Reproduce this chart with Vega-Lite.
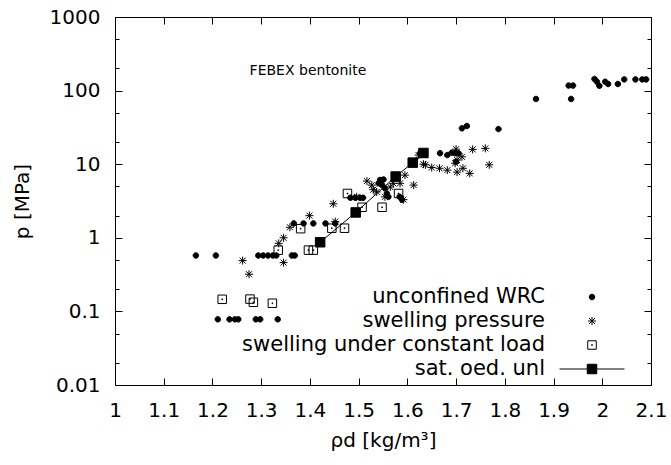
{
  "$schema": "https://vega.github.io/schema/vega-lite/v6.json",
  "width": 536,
  "height": 368,
  "padding": {"left": 12, "top": 7, "right": 0, "bottom": 5},
  "data": {"values": [
    {"rho": 1.166, "p": 0.575, "s": "unconfined WRC"},
    {"rho": 1.207, "p": 0.575, "s": "unconfined WRC"},
    {"rho": 1.294, "p": 0.575, "s": "unconfined WRC"},
    {"rho": 1.304, "p": 0.575, "s": "unconfined WRC"},
    {"rho": 1.314, "p": 0.575, "s": "unconfined WRC"},
    {"rho": 1.324, "p": 0.575, "s": "unconfined WRC"},
    {"rho": 1.331, "p": 0.575, "s": "unconfined WRC"},
    {"rho": 1.363, "p": 0.575, "s": "unconfined WRC"},
    {"rho": 1.369, "p": 0.575, "s": "unconfined WRC"},
    {"rho": 1.211, "p": 0.078, "s": "unconfined WRC"},
    {"rho": 1.235, "p": 0.078, "s": "unconfined WRC"},
    {"rho": 1.246, "p": 0.078, "s": "unconfined WRC"},
    {"rho": 1.253, "p": 0.078, "s": "unconfined WRC"},
    {"rho": 1.289, "p": 0.078, "s": "unconfined WRC"},
    {"rho": 1.298, "p": 0.078, "s": "unconfined WRC"},
    {"rho": 1.334, "p": 0.078, "s": "unconfined WRC"},
    {"rho": 1.367, "p": 1.57, "s": "unconfined WRC"},
    {"rho": 1.387, "p": 1.57, "s": "unconfined WRC"},
    {"rho": 1.407, "p": 1.57, "s": "unconfined WRC"},
    {"rho": 1.432, "p": 1.57, "s": "unconfined WRC"},
    {"rho": 1.452, "p": 1.57, "s": "unconfined WRC"},
    {"rho": 1.483, "p": 3.5, "s": "unconfined WRC"},
    {"rho": 1.493, "p": 3.5, "s": "unconfined WRC"},
    {"rho": 1.503, "p": 3.5, "s": "unconfined WRC"},
    {"rho": 1.509, "p": 3.5, "s": "unconfined WRC"},
    {"rho": 1.541, "p": 5.5, "s": "unconfined WRC"},
    {"rho": 1.544, "p": 6.1, "s": "unconfined WRC"},
    {"rho": 1.551, "p": 6.2, "s": "unconfined WRC"},
    {"rho": 1.548, "p": 5.2, "s": "unconfined WRC"},
    {"rho": 1.554, "p": 4.7, "s": "unconfined WRC"},
    {"rho": 1.558, "p": 4.0, "s": "unconfined WRC"},
    {"rho": 1.561, "p": 3.6, "s": "unconfined WRC"},
    {"rho": 1.584, "p": 3.6, "s": "unconfined WRC"},
    {"rho": 1.589, "p": 3.3, "s": "unconfined WRC"},
    {"rho": 1.626, "p": 14.1, "s": "unconfined WRC"},
    {"rho": 1.667, "p": 14.1, "s": "unconfined WRC"},
    {"rho": 1.682, "p": 13.3, "s": "unconfined WRC"},
    {"rho": 1.691, "p": 14.3, "s": "unconfined WRC"},
    {"rho": 1.698, "p": 14.1, "s": "unconfined WRC"},
    {"rho": 1.705, "p": 14.1, "s": "unconfined WRC"},
    {"rho": 1.700, "p": 10.8, "s": "unconfined WRC"},
    {"rho": 1.712, "p": 30.7, "s": "unconfined WRC"},
    {"rho": 1.722, "p": 33, "s": "unconfined WRC"},
    {"rho": 1.787, "p": 30, "s": "unconfined WRC"},
    {"rho": 1.864, "p": 77, "s": "unconfined WRC"},
    {"rho": 1.931, "p": 117, "s": "unconfined WRC"},
    {"rho": 1.940, "p": 117, "s": "unconfined WRC"},
    {"rho": 1.936, "p": 77, "s": "unconfined WRC"},
    {"rho": 1.984, "p": 144, "s": "unconfined WRC"},
    {"rho": 1.989, "p": 132, "s": "unconfined WRC"},
    {"rho": 1.994, "p": 116, "s": "unconfined WRC"},
    {"rho": 2.006, "p": 132, "s": "unconfined WRC"},
    {"rho": 2.012, "p": 123, "s": "unconfined WRC"},
    {"rho": 2.032, "p": 123, "s": "unconfined WRC"},
    {"rho": 2.045, "p": 142, "s": "unconfined WRC"},
    {"rho": 2.068, "p": 142, "s": "unconfined WRC"},
    {"rho": 2.082, "p": 142, "s": "unconfined WRC"},
    {"rho": 2.090, "p": 142, "s": "unconfined WRC"},
    {"rho": 1.262, "p": 0.49, "s": "swelling pressure"},
    {"rho": 1.275, "p": 0.32, "s": "swelling pressure"},
    {"rho": 1.346, "p": 0.46, "s": "swelling pressure"},
    {"rho": 1.336, "p": 0.84, "s": "swelling pressure"},
    {"rho": 1.346, "p": 1.0, "s": "swelling pressure"},
    {"rho": 1.359, "p": 1.39, "s": "swelling pressure"},
    {"rho": 1.399, "p": 2.0, "s": "swelling pressure"},
    {"rho": 1.448, "p": 2.9, "s": "swelling pressure"},
    {"rho": 1.452, "p": 1.66, "s": "swelling pressure"},
    {"rho": 1.496, "p": 3.6, "s": "swelling pressure"},
    {"rho": 1.517, "p": 5.9, "s": "swelling pressure"},
    {"rho": 1.527, "p": 5.2, "s": "swelling pressure"},
    {"rho": 1.530, "p": 4.5, "s": "swelling pressure"},
    {"rho": 1.537, "p": 4.2, "s": "swelling pressure"},
    {"rho": 1.554, "p": 3.6, "s": "swelling pressure"},
    {"rho": 1.565, "p": 4.9, "s": "swelling pressure"},
    {"rho": 1.571, "p": 5.5, "s": "swelling pressure"},
    {"rho": 1.585, "p": 5.5, "s": "swelling pressure"},
    {"rho": 1.595, "p": 7.1, "s": "swelling pressure"},
    {"rho": 1.613, "p": 5.2, "s": "swelling pressure"},
    {"rho": 1.592, "p": 3.3, "s": "swelling pressure"},
    {"rho": 1.637, "p": 9.8, "s": "swelling pressure"},
    {"rho": 1.650, "p": 9.0, "s": "swelling pressure"},
    {"rho": 1.666, "p": 8.8, "s": "swelling pressure"},
    {"rho": 1.682, "p": 8.3, "s": "swelling pressure"},
    {"rho": 1.623, "p": 13.3, "s": "swelling pressure"},
    {"rho": 1.633, "p": 10.0, "s": "swelling pressure"},
    {"rho": 1.702, "p": 7.8, "s": "swelling pressure"},
    {"rho": 1.714, "p": 8.8, "s": "swelling pressure"},
    {"rho": 1.728, "p": 7.5, "s": "swelling pressure"},
    {"rho": 1.698, "p": 10.3, "s": "swelling pressure"},
    {"rho": 1.702, "p": 11.4, "s": "swelling pressure"},
    {"rho": 1.712, "p": 12.6, "s": "swelling pressure"},
    {"rho": 1.700, "p": 16, "s": "swelling pressure"},
    {"rho": 1.734, "p": 15.9, "s": "swelling pressure"},
    {"rho": 1.760, "p": 16.4, "s": "swelling pressure"},
    {"rho": 1.768, "p": 9.8, "s": "swelling pressure"},
    {"rho": 1.220, "p": 0.146, "s": "swelling under constant load"},
    {"rho": 1.277, "p": 0.147, "s": "swelling under constant load"},
    {"rho": 1.284, "p": 0.133, "s": "swelling under constant load"},
    {"rho": 1.323, "p": 0.129, "s": "swelling under constant load"},
    {"rho": 1.335, "p": 0.68, "s": "swelling under constant load"},
    {"rho": 1.381, "p": 1.33, "s": "swelling under constant load"},
    {"rho": 1.397, "p": 0.68, "s": "swelling under constant load"},
    {"rho": 1.407, "p": 0.68, "s": "swelling under constant load"},
    {"rho": 1.445, "p": 1.35, "s": "swelling under constant load"},
    {"rho": 1.471, "p": 1.35, "s": "swelling under constant load"},
    {"rho": 1.477, "p": 4.0, "s": "swelling under constant load"},
    {"rho": 1.507, "p": 2.6, "s": "swelling under constant load"},
    {"rho": 1.548, "p": 2.6, "s": "swelling under constant load"},
    {"rho": 1.582, "p": 4.0, "s": "swelling under constant load"},
    {"rho": 1.421, "p": 0.87, "s": "sat. oed. unl"},
    {"rho": 1.494, "p": 2.21, "s": "sat. oed. unl"},
    {"rho": 1.576, "p": 6.8, "s": "sat. oed. unl"},
    {"rho": 1.611, "p": 10.5, "s": "sat. oed. unl"},
    {"rho": 1.633, "p": 14.2, "s": "sat. oed. unl"}
  ]},
  "config": {
    "view": {"stroke": "black", "strokeWidth": 1},
    "axis": {
      "labelFont": "DejaVu Sans", "labelFontSize": 20, "labelColor": "black", "labelFlush": false,
      "titleFont": "DejaVu Sans", "titleFontSize": 20, "titleFontWeight": "normal", "titleColor": "black",
      "ticks": true, "tickColor": "black", "tickOpacity": 1, "tickWidth": 1, "tickSize": -7,
      "domain": false, "grid": false, "offset": 0
    },
    "legend": {
      "orient": "none", "legendX": 466.5, "legendY": 269.5, "padding": 0,
      "labelAlign": "right", "labelOffset": -57.5, "labelFont": "DejaVu Sans", "labelFontSize": 21,
      "labelColor": "black", "labelLimit": 400, "rowPadding": 2,
      "symbolSize": 100, "symbolStrokeWidth": 1, "symbolStrokeColor": "black"
    }
  },
  "layer": [
    {
      "transform": [{"filter": "datum.s === 'sat. oed. unl'"}],
      "mark": {"type": "line", "color": "black", "strokeWidth": 1},
      "encoding": {
        "x": {"field": "rho", "type": "quantitative",
          "scale": {"domain": [1, 2.1], "nice": false, "zero": false},
          "axis": {"orient": "top", "labels": false, "title": null,
            "values": [1, 1.1, 1.2, 1.3, 1.4, 1.5, 1.6, 1.7, 1.8, 1.9, 2, 2.1]}},
        "y": {"field": "p", "type": "quantitative",
          "scale": {"type": "log", "domain": [0.01, 1000], "nice": false},
          "axis": {"orient": "right", "labels": false, "title": null,
            "tickDash": {"condition": {"test": "indexof([0.01,0.1,1,10,100,1000], datum.value) < 0", "value": [4, 10]}, "value": [10, 0]},
            "values": [0.01, 0.02, 0.05, 0.1, 0.2, 0.5, 1, 2, 5, 10, 20, 50, 100, 200, 500, 1000]}},
        "order": {"field": "rho"}
      }
    },
    {
      "transform": [{"filter": "datum.s !== 'sat. oed. unl'"}],
      "mark": {"type": "point", "size": 100, "stroke": "black", "strokeWidth": 1, "opacity": 1},
      "encoding": {
        "x": {"field": "rho", "type": "quantitative",
          "scale": {"domain": [1, 2.1], "nice": false, "zero": false},
          "axis": {"orient": "bottom", "title": "ρd [kg/m³]", "labelPadding": 22, "titlePadding": 10,
            "format": "~g", "values": [1, 1.1, 1.2, 1.3, 1.4, 1.5, 1.6, 1.7, 1.8, 1.9, 2, 2.1]}},
        "y": {"field": "p", "type": "quantitative",
          "scale": {"type": "log", "domain": [0.01, 1000], "nice": false},
          "axis": {"orient": "left", "title": "p [MPa]", "labelPadding": 22, "titlePadding": 17,
            "tickDash": {"condition": {"test": "indexof([0.01,0.1,1,10,100,1000], datum.value) < 0", "value": [4, 10]}, "value": [10, 0]},
            "labelExpr": "indexof([0.01,0.1,1,10,100,1000], datum.value) >= 0 ? '' + datum.value : ''",
            "values": [0.01, 0.02, 0.05, 0.1, 0.2, 0.5, 1, 2, 5, 10, 20, 50, 100, 200, 500, 1000]}},
        "shape": {"field": "s", "type": "nominal",
          "scale": {
            "domain": ["unconfined WRC", "swelling pressure", "swelling under constant load", "sat. oed. unl"],
            "range": [
              "M0.55,0A0.55,0.55,0,1,1,-0.55,0A0.55,0.55,0,1,1,0.55,0Z",
              "M-0.8,0H0.8M0,-0.8V0.8M-0.6,-0.6L0.6,0.6M-0.6,0.6L0.6,-0.6",
              "M-0.85,-0.85H0.85V0.85H-0.85ZM-0.08,-0.08H0.08V0.08H-0.08Z",
              "M-6.5,0H-0.95M0.95,0H6.5M-0.95,-0.95H0.95V0.95H-0.95Z"
            ]},
          "legend": {
            "title": null,
            "encoding": {
              "symbols": {
                "stroke": {"value": "black"},
                "strokeWidth": {"value": 1},
                "fill": {"condition": {"test": "datum.value === 'unconfined WRC' || datum.value === 'sat. oed. unl'", "value": "black"}, "value": "transparent"}
              }
            }
          }},
        "fill": {"condition": {"test": "datum.s === 'unconfined WRC'", "value": "black"}, "value": "transparent"}
      }
    },
    {
      "transform": [{"filter": "datum.s === 'sat. oed. unl'"}],
      "mark": {"type": "point", "size": 100, "stroke": "black", "strokeWidth": 1, "opacity": 1, "fill": "black", "filled": true,
        "shape": "M-0.95,-0.95H0.95V0.95H-0.95Z"},
      "encoding": {
        "x": {"field": "rho", "type": "quantitative", "axis": null},
        "y": {"field": "p", "type": "quantitative", "axis": null}
      }
    },
    {
      "data": {"values": [{}]},
      "mark": {"type": "text", "font": "DejaVu Sans", "fontSize": 14, "color": "black"},
      "encoding": {
        "x": {"datum": 1.396, "type": "quantitative", "axis": null},
        "y": {"datum": 185, "type": "quantitative", "axis": null},
        "text": {"value": "FEBEX bentonite"}
      }
    }
  ]
}
